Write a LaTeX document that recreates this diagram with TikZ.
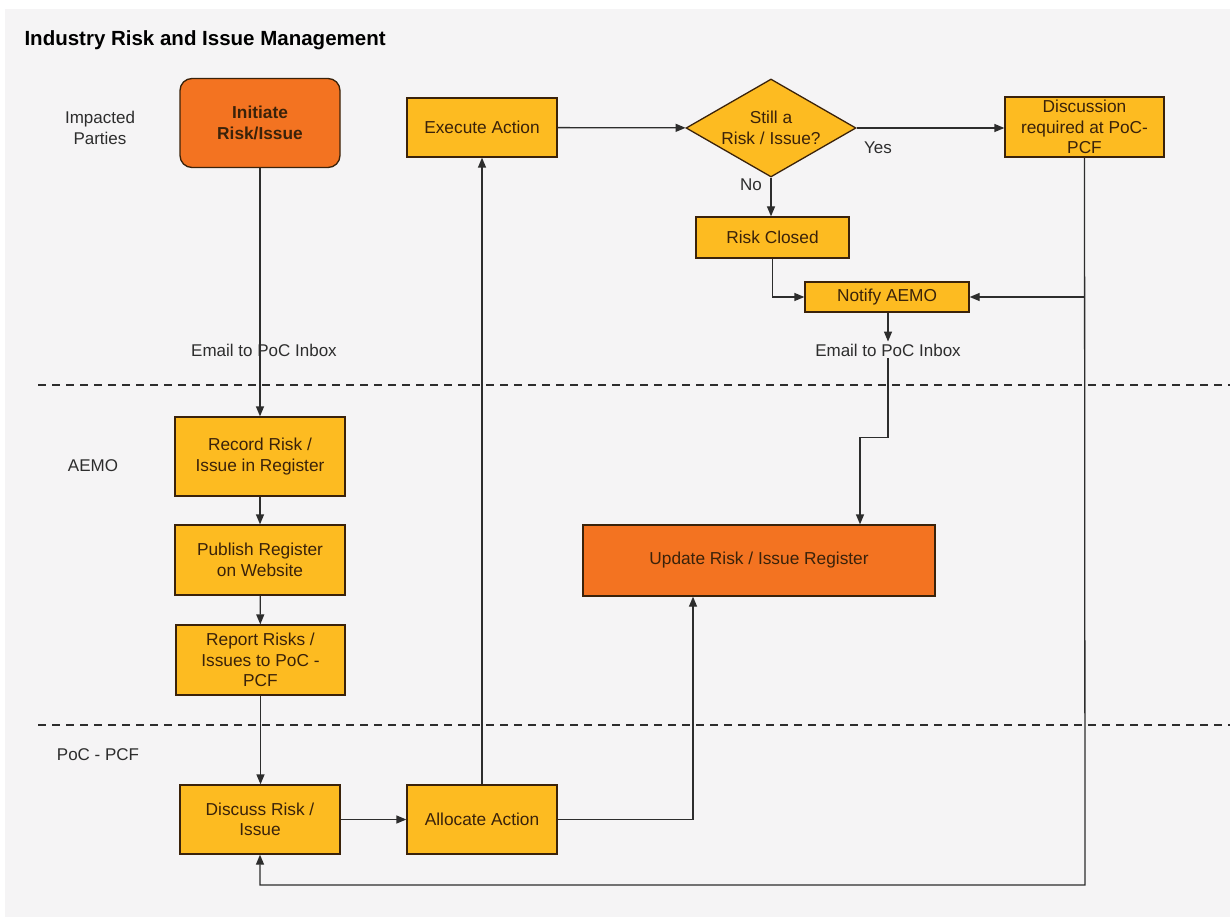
\documentclass[tikz,border=0pt]{standalone}
\usepackage{fontspec}
\setmainfont{Liberation Sans}
\usetikzlibrary{arrows.meta,shapes.geometric,calc}
\definecolor{amber}{RGB}{253,187,33}
\definecolor{riskorange}{RGB}{243,115,33}
\definecolor{panelgray}{RGB}{245,244,245}
\definecolor{inkbrown}{RGB}{58,34,10}
\definecolor{linegray}{RGB}{45,45,45}
\tikzset{
  box/.style={draw=inkbrown, fill=amber, line width=1.3pt, inner sep=0pt, align=center,
    text=inkbrown, font=\fontsize{17.3}{20.5}\selectfont},
  hotbox/.style={box, fill=riskorange},
  lane/.style={text=linegray, align=center, font=\fontsize{17}{20.5}\selectfont},
  arr/.style={draw=linegray, line width=1.3pt, -{Triangle[length=10pt,width=8pt]}},
  sep/.style={draw=linegray, line width=1.4pt, dash pattern=on 8pt off 6pt}
}
\begin{document}
\begin{tikzpicture}[x=1pt,y=-1pt]
\useasboundingbox (0,0) rectangle (1230,917);
\fill[white] (0,0) rectangle (1230,917);
\fill[panelgray] (5,9) rectangle (1230,917);

\node[anchor=west, text=black, font=\bfseries\fontsize{20.5}{23}\selectfont] (title) at (21,40) {Industry Risk and Issue Management};

\draw[sep] (38,385) -- (1230,385);
\draw[sep] (38,725) -- (1230,725);

\node[lane] (impacted) at (100,128) {Impacted\\Parties};
\node[lane] (aemo) at (93,466) {AEMO};
\node[lane] (poc) at (98,755) {PoC - PCF};

\node[hotbox, rounded corners=12pt, minimum width=160pt, minimum height=89pt,
  font=\bfseries\fontsize{17.3}{20.5}\selectfont] (init) at (260,123) {Initiate\\Risk/Issue};
\node[box, minimum width=150pt, minimum height=59pt] (exec) at (482,127.5) {Execute Action};
\node[box, diamond, aspect=1.73, minimum width=170pt, minimum height=98pt] (still) at (771,128) {Still a\\Risk / Issue?};
\node[box, minimum width=159pt, minimum height=60pt] (disc) at (1084.5,127) {Discussion\\required at PoC-\\PCF};
\node[box, minimum width=153pt, minimum height=41pt] (closed) at (772.5,237.5) {Risk Closed};
\node[box, minimum width=164pt, minimum height=30pt] (notify) at (887,297) {Notify AEMO};
\node[lane, inner sep=2pt] (mailb) at (888,350) {Email to PoC Inbox};
\node[hotbox, minimum width=352pt, minimum height=71pt] (update) at (759,560.5) {Update Risk / Issue Register};

\node[lane] (maila) at (264,350) {Email to PoC Inbox};
\node[box, minimum width=170pt, minimum height=79pt] (record) at (260,456.5) {Record Risk /\\Issue in Register};
\node[box, minimum width=170pt, minimum height=70pt] (publish) at (260,560) {Publish Register\\on Website};
\node[box, minimum width=169pt, minimum height=70pt] (report) at (260.5,660) {Report Risks /\\Issues to PoC -\\PCF};
\node[box, minimum width=160pt, minimum height=69pt] (discuss) at (260,819.5) {Discuss Risk /\\Issue};
\node[box, minimum width=150pt, minimum height=69pt] (alloc) at (482,819.5) {Allocate Action};

\coordinate (loop) at (1085,885);

\draw[arr] (init.south) -- (record.north);
\draw[arr] (record) -- (publish);
\draw[arr] (publish) -- (report);
\draw[arr] (report.south) -- (report.south |- discuss.north);
\draw[arr] (discuss) -- (alloc);
\draw[arr] (alloc) -- (exec);
\draw[arr] (alloc.east) -| ([xshift=-66pt]update.south);
\draw[arr] (exec) -- (still);
\draw[arr] (still.east) -- (still.east -| disc.west);
\draw[arr] (still.south) -- (still.south |- closed.north);
\draw[arr] (closed.south) |- (notify.west);
\draw[arr] (disc.south) -- (loop) -| (discuss.south);
\draw[arr] (disc.south |- notify.east) -- (notify.east);
\draw[arr] (notify.south -| mailb.north) -- (mailb.north);
\draw[arr] (mailb.south) -- ++(0,79) -| ([xshift=101pt]update.north);

\node[lane] (yes) at (878,148) {Yes};
\node[lane] (no) at (751,185) {No};
\end{tikzpicture}
\end{document}
